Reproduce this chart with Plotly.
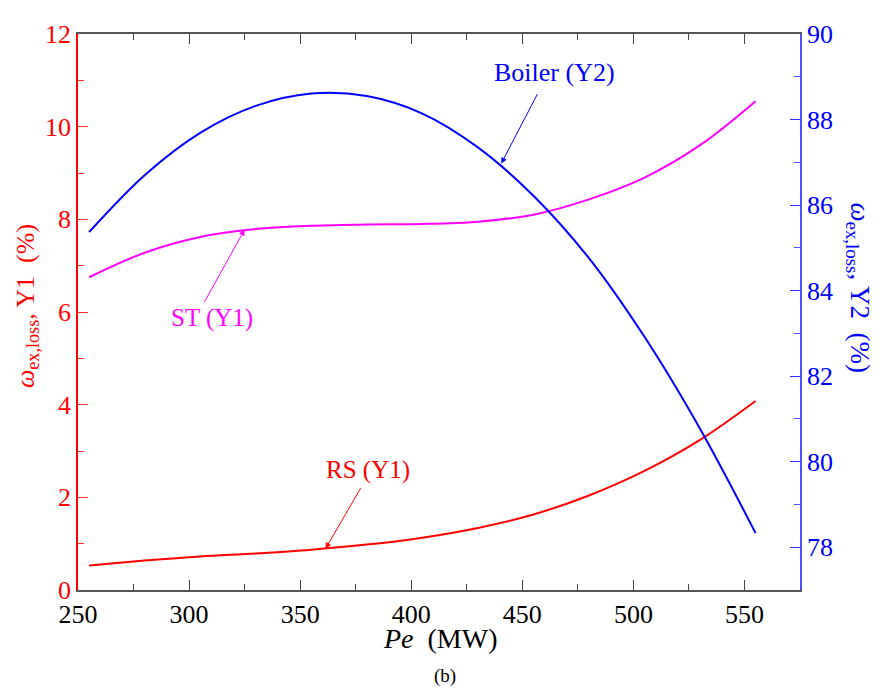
import plotly.graph_objects as go

pe = [255, 280, 305, 330, 355, 380, 405, 430, 455, 480, 505, 530, 555]
boiler_y2 = [85.37, 86.70, 87.69, 88.32, 88.61, 88.55, 88.14, 87.35, 86.22, 84.76, 82.92, 80.77, 78.33]
st_y1 = [6.75, 7.28, 7.62, 7.79, 7.86, 7.89, 7.90, 7.95, 8.10, 8.43, 8.90, 9.60, 10.55]
rs_y1 = [0.53, 0.635, 0.725, 0.79, 0.87, 0.98, 1.13, 1.34, 1.63, 2.04, 2.57, 3.24, 4.08]

x_ticks = [250, 300, 350, 400, 450, 500, 550]
y1_ticks = [0, 2, 4, 6, 8, 10, 12]
y2_ticks = [78, 80, 82, 84, 86, 88, 90]

FONT = "Times New Roman, Liberation Serif, serif"

# page has an 8px body margin; figure sized to fit inside the window
OFF = 8
W, H = 877, 683
L, T = 78 - OFF, 24 - OFF
R = W - (800 - OFF)
B = H - (590 - OFF)
pw, ph = W - L - R, H - T - B

fig = go.Figure()
fig.add_trace(go.Scatter(x=pe, y=st_y1, mode="lines",
                         line=dict(color="#FF00FF", width=2, shape="spline", smoothing=1.0),
                         yaxis="y", showlegend=False))
fig.add_trace(go.Scatter(x=pe, y=rs_y1, mode="lines",
                         line=dict(color="#FF0000", width=2, shape="spline", smoothing=1.0),
                         yaxis="y", showlegend=False))
fig.add_trace(go.Scatter(x=pe, y=boiler_y2, mode="lines",
                         line=dict(color="#0000FF", width=2, shape="spline", smoothing=1.0),
                         yaxis="y2", showlegend=False))

fig.update_layout(
    width=W, height=H,
    margin=dict(l=L, r=R, t=T, b=B, pad=0),
    paper_bgcolor="white", plot_bgcolor="white",
    font=dict(family=FONT, size=26, color="black"),
    xaxis=dict(range=[250, 575], tickvals=x_ticks, ticks="inside", ticklen=10, tickcolor="#444",
               showline=True, linecolor="#555", linewidth=1.5, mirror="ticks", showgrid=False, zeroline=False,
               tickfont=dict(family=FONT, size=26, color="black"),
               minor=dict(dtick=25, tick0=250, ticks="inside", ticklen=6, tickcolor="#444")),
    yaxis=dict(range=[0, 12], tickvals=y1_ticks, ticks="inside", ticklen=10, tickcolor="#FF3030",
               showline=True, linecolor="#FF0000", linewidth=1.5, showgrid=False, zeroline=False,
               tickfont=dict(family=FONT, size=26, color="#FF0000"),
               minor=dict(dtick=1, tick0=0, ticks="inside", ticklen=6, tickcolor="#FF3030")),
    yaxis2=dict(range=[77, 90], tickvals=y2_ticks, ticks="inside", ticklen=10, tickcolor="#3030FF",
                overlaying="y", side="right", anchor="x",
                showline=True, linecolor="#5050FF", linewidth=1.5, showgrid=False, zeroline=False,
                tickfont=dict(family=FONT, size=26, color="#0000FF"),
                minor=dict(dtick=1, tick0=77, ticks="inside", ticklen=6, tickcolor="#5050FF")),
)

def px(xp, yp):
    """reference-pixel position -> paper coordinates"""
    return (xp - OFF - L) / pw, (H - B - (yp - OFF)) / ph

labels = [
    ("Boiler (Y2)", 554, 63, 26, "#0000FF", 0),
    ("ST (Y1)", 212, 313, 25, "#FF00FF", 0),
    ("RS (Y1)", 368, 468, 25, "#FF0000", 0),
    ("<i>Pe</i>  (MW)", 440, 639, 28, "black", 0),
    ("(b)", 445, 678, 19, "black", 0),
    ("<i>ω</i><sub>ex,loss</sub>, Y1  (%)", 27, 301, 26, "#FF0000", -90),
    ("<i>ω</i><sub>ex,loss</sub>, Y2  (%)", 858, 283, 27, "#0000FF", 90),
]

annotations = [
    dict(x=440.5, y=86.97, xref="x", yref="y2", text="", showarrow=True, ax=37, ay=-71,
         arrowhead=2, arrowsize=1.2, arrowwidth=1, arrowcolor="#0000FF"),
    dict(x=325, y=7.78, xref="x", yref="y", text="", showarrow=True, ax=-41, ay=74,
         arrowhead=2, arrowsize=1.2, arrowwidth=1, arrowcolor="#FF00FF"),
    dict(x=361.4, y=0.89, xref="x", yref="y", text="", showarrow=True, ax=36, ay=-62,
         arrowhead=2, arrowsize=1.2, arrowwidth=1, arrowcolor="#FF0000"),
]
for text, xp, yp, size, color, ang in labels:
    xx, yy = px(xp, yp)
    annotations.append(dict(x=xx, y=yy, xref="paper", yref="paper", text=text, showarrow=False,
                            xanchor="center", yanchor="middle", textangle=ang,
                            font=dict(family=FONT, size=size, color=color)))

fig.update_layout(annotations=annotations)
fig.write_html("out.html")
